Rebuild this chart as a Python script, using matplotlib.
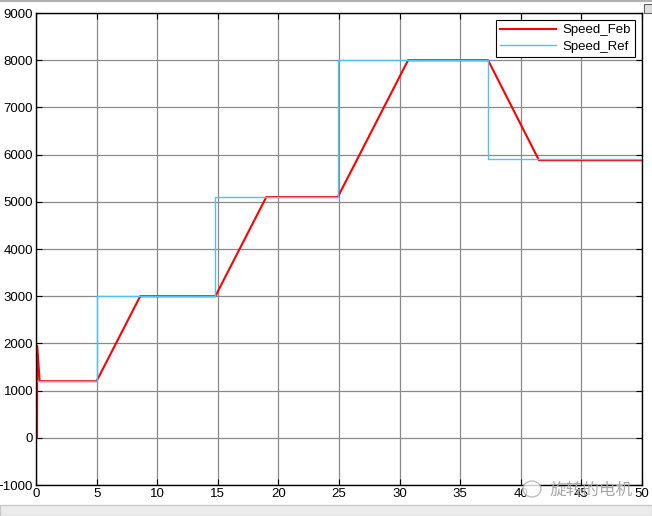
import matplotlib.pyplot as plt
from matplotlib.patches import Rectangle, Ellipse

# speed reference (step commands) and feedback (ramped response)
t_ref = [0, 5, 5, 14.8, 14.8, 24.9, 24.9, 37.3, 37.3, 50]
speed_ref = [1200, 1200, 3000, 3000, 5100, 5100, 8000, 8000, 5900, 5900]

t_feb = [0.08, 0.1, 0.3, 5, 8.6, 14.8, 19.0, 24.9, 30.7, 37.3, 41.5, 50]
speed_feb = [0, 1950, 1200, 1200, 3000, 3000, 5100, 5100, 8000, 8000, 5880, 5880]

xticks = [0, 5, 10, 15, 20, 25, 30, 35, 40, 45, 50]
yticks = [-1000, 0, 1000, 2000, 3000, 4000, 5000, 6000, 7000, 8000, 9000]

plt.rcParams['font.family'] = ['Liberation Sans', 'DejaVu Sans']

fig = plt.figure(figsize=(6.52, 5.16), dpi=100)
ax = fig.add_axes([36/652, 1 - 485/516, 606/652, 472/516])

ax.plot(t_feb, speed_feb, color='red', lw=1.5, label='Speed_Feb')
ax.plot(t_ref, speed_ref, color='#4fc3f0', lw=1.0, label='Speed_Ref')

ax.set_xlim(0, 50)
ax.set_ylim(-1000, 9000)
ax.set_xticks(xticks)
ax.set_yticks(yticks)
ax.grid(True, color='#8a8a8a', lw=0.9)
ax.tick_params(direction='in', top=True, right=True, labelsize=9.5, length=4, pad=2)
for s in ax.spines.values():
    s.set_linewidth(1.0)
    s.set_color('black')

leg = ax.legend(loc='upper right', fontsize=9.5, handlelength=4.2, fancybox=False,
                framealpha=1, edgecolor='black', borderaxespad=0.5,
                borderpad=0.35, labelspacing=0.3, handletextpad=0.5)
leg.get_frame().set_linewidth(0.8)

# watermark
fig.text(633/652, 1 - 490/516, '旋转的电机', ha='right', va='center',
         fontsize=12, color='#a8a8a8', family=['Noto Sans CJK SC', 'DejaVu Sans'])
fig.patches.append(Ellipse((532/652, 1 - 489/516), 18/652, 16/516, transform=fig.transFigure,
                           facecolor='white', edgecolor='#b0b0b0', lw=1, alpha=0.8))

# scope window status bar and top button
fig.patches.append(Rectangle((0, 0), 1, 11/516, transform=fig.transFigure,
                             facecolor='#ececec', edgecolor='#c8c8c8', lw=1))
fig.patches.append(Rectangle((0, 1 - 2/516), 1, 2/516, transform=fig.transFigure,
                             facecolor='#b0b0b0', edgecolor='none'))
fig.patches.append(Rectangle((644/652, 1 - 13/516), 8/652, 9/516, transform=fig.transFigure,
                             facecolor='#e0e0e0', edgecolor='#606060', lw=0.8))

fig.savefig('out.png', dpi=100)
